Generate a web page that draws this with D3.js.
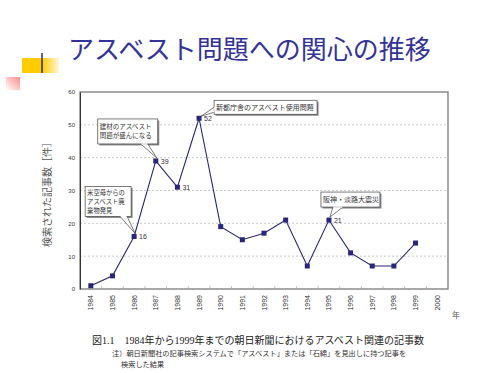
<!DOCTYPE html>
<html>
<head>
<meta charset="utf-8">
<script src="https://cdn.jsdelivr.net/npm/d3@7"></script>
<style>
  body { margin: 0; background: #fff; }
  svg { display: block; }
</style>
</head>
<body>
<div id="chart"></div>
<script>
// data
const years = [1984, 1985, 1986, 1987, 1988, 1989, 1990, 1991, 1992, 1993, 1994, 1995, 1996, 1997, 1998, 1999];
const counts = [1, 4, 16, 39, 31, 52, 19, 15, 17, 21, 7, 21, 11, 7, 7, 14];
const tickYears = ["1984", "1985", "1986", "1987", "1988", "1989", "1990", "1991", "1992", "1993", "1994", "1995", "1996", "1997", "1998", "1999", "2000"];
const yTicks = [0, 10, 20, 30, 40, 50, 60];
const labeledYears = [1986, 1987, 1988, 1989, 1995];
const noteYears = [1986, 1987, 1989, 1995];
const noteTexts = [
  ["米空母からの", "アスベスト廃", "棄物発見"],
  ["建材のアスベスト", "問題が盛んになる"],
  ["新都庁舎のアスベスト使用問題"],
  ["阪神・淡路大震災"]
];

const title = "アスベスト問題への関心の推移";
const yLabel = "検索された記事数［件］";
const caption = "図1.1　1984年から1999年までの朝日新聞におけるアスベスト関連の記事数";
const noteLines = ["注）朝日新聞社の記事検索システムで「アスベスト」または「石綿」を見出しに持つ記事を", "検索した結果"];

// layout of the callout boxes, relative to their point: box offset/size, pointer base
const noteBoxes = [
  {dx: -49, dy: -50, w: 46, h: 30, b0: -14, b1: -7, fs: 6.3},
  {dx: -58, dy: -42, w: 60, h: 25, b0: -15, b1: -8, fs: 6.5},
  {dx: 15, dy: -18, w: 103, h: 14, b0: 15, b1: 15, side: true, fs: 7},
  {dx: -8, dy: -28, w: 59, h: 15, b0: 4, b1: 14, fs: 7}
];

const width = 500, height = 373;
const margin = {left: 80, right: 52, top: 92, bottom: 84};

const svg = d3.select("#chart").append("svg")
  .attr("width", width)
  .attr("height", height);

const jp = "'Noto Sans CJK JP', sans-serif";
const navy = "#26267a";

// slide decoration
const defs = svg.append("defs");
const fade = defs.append("linearGradient").attr("id", "fade");
fade.append("stop").attr("offset", "0%").attr("stop-color", "#ffcc00");
fade.append("stop").attr("offset", "100%").attr("stop-color", "#ffcc00").attr("stop-opacity", 0.15);
const pink = defs.append("linearGradient").attr("id", "pink")
  .attr("x1", "100%").attr("y1", "0%").attr("x2", "0%").attr("y2", "100%");
pink.append("stop").attr("offset", "0%").attr("stop-color", "#ff8a8a");
pink.append("stop").attr("offset", "100%").attr("stop-color", "#ffffff");

svg.append("rect").attr("x", 22).attr("y", 58).attr("width", 20).attr("height", 15).attr("fill", "#ffcc00");
svg.append("rect").attr("x", 42).attr("y", 58).attr("width", 17).attr("height", 15).attr("fill", "url(#fade)");
svg.append("line").attr("x1", 42).attr("x2", 42).attr("y1", 53).attr("y2", 73)
  .attr("stroke", "#2a2a6e").attr("stroke-width", 1.5);
svg.append("rect").attr("x", 6).attr("y", 77).attr("width", 14).attr("height", 13).attr("fill", "url(#pink)");

svg.append("text")
  .attr("x", 68).attr("y", 59)
  .attr("font-family", jp).attr("font-size", 26)
  .attr("fill", "#333399")
  .text(title);

// scales
const x = d3.scaleBand()
  .domain(tickYears)
  .range([margin.left, width - margin.right]);
const y = d3.scaleLinear()
  .domain([0, 60])
  .range([height - margin.bottom, margin.top]);

const px = yr => x(String(yr)) + x.bandwidth() / 2;

// grid
svg.append("g").selectAll("line")
  .data(yTicks.filter(t => t > 0 && t < 60))
  .join("line")
  .attr("x1", margin.left).attr("x2", width - margin.right)
  .attr("y1", d => y(d)).attr("y2", d => y(d))
  .attr("stroke", "#bdbdbd").attr("stroke-dasharray", "2,2").attr("stroke-width", 0.8);

// frame
svg.append("rect")
  .attr("x", margin.left).attr("y", margin.top)
  .attr("width", width - margin.left - margin.right)
  .attr("height", height - margin.top - margin.bottom)
  .attr("fill", "none").attr("stroke", "#7a7a7a").attr("stroke-width", 1.3);

// y axis
const yAxis = svg.append("g")
  .attr("transform", `translate(${margin.left},0)`)
  .call(d3.axisLeft(y).tickValues(yTicks).tickSize(0).tickPadding(5));
yAxis.select(".domain").attr("stroke", "#333");
yAxis.selectAll("text").attr("font-family", "'Liberation Sans', sans-serif").attr("font-size", 6).attr("fill", "#333");

// x axis: small ticks between categories, rotated labels
const bottom = height - margin.bottom;
svg.append("g").selectAll("line")
  .data(tickYears.slice(1))
  .join("line")
  .attr("x1", d => x(d)).attr("x2", d => x(d))
  .attr("y1", bottom).attr("y2", bottom - 3)
  .attr("stroke", "#999").attr("stroke-width", 0.6);
svg.append("g").selectAll("text")
  .data(tickYears)
  .join("text")
  .attr("transform", d => `translate(${x(d) + x.bandwidth() / 2 + 2.5},${bottom + 6}) rotate(-90)`)
  .attr("text-anchor", "end")
  .attr("font-family", "'Liberation Sans', sans-serif").attr("font-size", 7)
  .attr("fill", "#333")
  .text(d => d);
svg.append("text")
  .attr("x", 452).attr("y", 318)
  .attr("font-family", jp).attr("font-size", 8).attr("fill", "#555")
  .text("年");

svg.append("text")
  .attr("transform", `translate(51,192) rotate(-90)`)
  .attr("text-anchor", "middle")
  .attr("font-family", jp).attr("font-size", 10).attr("fill", "#555")
  .text(yLabel);

// line + markers
const pts = years.map((yr, i) => ({year: yr, value: counts[i]}));
svg.append("path")
  .datum(pts)
  .attr("fill", "none").attr("stroke", navy).attr("stroke-width", 1.1)
  .attr("d", d3.line().x(d => px(d.year)).y(d => y(d.value)));
svg.append("g").selectAll("rect")
  .data(pts)
  .join("rect")
  .attr("x", d => px(d.year) - 2.5).attr("y", d => y(d.value) - 2.5)
  .attr("width", 5).attr("height", 5)
  .attr("fill", navy);

svg.append("g").selectAll("text")
  .data(pts.filter(d => labeledYears.includes(d.year)))
  .join("text")
  .attr("x", d => px(d.year) + 5).attr("y", d => y(d.value) + 3)
  .attr("font-family", "'Liberation Sans', sans-serif").attr("font-size", 7).attr("fill", "#333")
  .text(d => d.value);

// callouts
noteYears.forEach((yr, i) => {
  const b = noteBoxes[i];
  const cx = px(yr), cy = y(counts[years.indexOf(yr)]);
  const bx = cx + b.dx, by = cy + b.dy;
  const g = svg.append("g");
  let wedge;
  if (b.side) {
    wedge = [[bx, by + b.h - 7], [cx + 2, cy - 2], [bx, by + b.h - 2]];
  } else {
    wedge = [[bx - b.dx + b.b0, by + b.h], [cx + 1, cy - 3], [bx - b.dx + b.b1, by + b.h]];
  }
  g.append("rect")
    .attr("x", bx + 1.5).attr("y", by + 1.5).attr("width", b.w).attr("height", b.h)
    .attr("fill", "#888");
  g.append("path")
    .attr("d", d3.line()(wedge))
    .attr("fill", "#fff").attr("stroke", "#444").attr("stroke-width", 0.7);
  g.append("rect")
    .attr("x", bx).attr("y", by).attr("width", b.w).attr("height", b.h)
    .attr("fill", "#fff").attr("stroke", "#444").attr("stroke-width", 0.7);
  g.append("line")
    .attr("x1", wedge[0][0] + 0.5).attr("x2", wedge[2][0] - 0.5)
    .attr("y1", b.side ? wedge[0][1] : by + b.h).attr("y2", b.side ? wedge[2][1] : by + b.h)
    .attr("stroke", "#fff").attr("stroke-width", 1.2);
  const lines = noteTexts[i];
  const lh = b.fs * 1.45;
  const top = by + (b.h - lines.length * lh) / 2 + b.fs * 1.08;
  g.selectAll("text")
    .data(lines)
    .join("text")
    .attr("x", bx + 2).attr("y", (d, j) => top + j * lh)
    .attr("font-family", jp).attr("font-size", b.fs).attr("fill", "#333")
    .text(d => d);
});

// caption
svg.append("text")
  .attr("x", 92).attr("y", 344)
  .attr("font-family", "'Liberation Serif', 'Noto Sans CJK JP', serif").attr("font-size", 10).attr("fill", "#222")
  .text(caption);
svg.append("g").selectAll("text")
  .data(noteLines)
  .join("text")
  .attr("x", (d, i) => i === 0 ? 112 : 121).attr("y", (d, i) => 356 + i * 10.5)
  .attr("font-family", jp).attr("font-size", 7.2).attr("fill", "#333")
  .text(d => d);
</script>
</body>
</html>
